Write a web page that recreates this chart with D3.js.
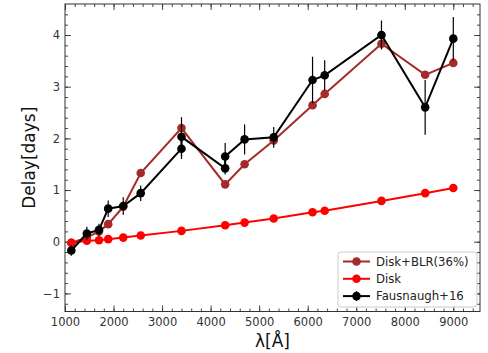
<!DOCTYPE html>
<html>
<head>
<meta charset="utf-8">
<script src="https://cdn.jsdelivr.net/npm/d3@7"></script>
<style>
  body { margin: 0; background: #fff; }
  svg { font-family: "DejaVu Sans", sans-serif; }
</style>
</head>
<body>
<div id="chart"></div>
<script>
let width = 488,
    height = 353;

const margin = {top: 4, right: 8, bottom: 41.5, left: 65};

// wavelengths (Angstrom)
const wave = [1130, 1450, 1700, 1890, 2200, 2560, 3400, 4300, 4700, 5300, 6100, 6350, 7520, 8420, 9000];
const diskBLR = [-0.02, 0.08, 0.2, 0.34, 0.68, 1.33, 2.2, 1.11, 1.5, 1.96, 2.64, 2.86, 3.83, 3.23, 3.46];
const disk = [-0.02, 0.02, 0.03, 0.05, 0.08, 0.12, 0.21, 0.32, 0.37, 0.45, 0.57, 0.6, 0.79, 0.94, 1.04];
// Fausnaugh+16 observed lags (two bands share 3400 and 4300)
const obsWave = [1130, 1450, 1700, 1890, 2200, 2560, 3400, 3400, 4300, 4300, 4700, 5300, 6100, 6350, 7520, 8420, 9000];
const obsLag  = [-0.17, 0.16, 0.23, 0.64, 0.69, 0.94, 1.8, 2.03, 1.42, 1.65, 1.98, 2.02, 3.13, 3.22, 4.0, 2.6, 3.93];
const obsErr  = [0.1, 0.13, 0.12, 0.16, 0.17, 0.15, 0.2, 0.38, 0.12, 0.26, 0.29, 0.2, 0.45, 0.29, 0.28, 0.53, 0.42];

const xTicks = [1000, 2000, 3000, 4000, 5000, 6000, 7000, 8000, 9000];
const yTicks = [-1, 0, 1, 2, 3, 4];

const legendNames = ["Disk+BLR(36%)", "Disk", "Fausnaugh+16"];
const colors = ["#a52a2a", "#ff0000", "#000000"];

const svg = d3.select("#chart")
      .append("svg")
      .attr("width", width)
      .attr("height", height);

const x = d3.scaleLinear().domain([1000, 9550]).range([margin.left, width - margin.right]);
const y = d3.scaleLinear().domain([-1.35, 4.6]).range([height - margin.bottom, margin.top]);

const axisColor = "#333";

function styleAxis(g) {
  g.select(".domain").remove();
  g.selectAll(".tick line").attr("stroke", axisColor).attr("stroke-width", 0.9);
  g.selectAll(".tick text").attr("fill", "#333").style("font-size", "11.5px").style("font-family", "DejaVu Sans, sans-serif");
}

const minorX = d3.range(1000, 9550, 200);
const minorY = d3.range(-1.2, 4.6, 0.2).map(d => Math.round(d * 10) / 10);

// minor ticks
svg.append("g").attr("transform", `translate(0,${y.range()[0]})`)
  .call(d3.axisBottom(x).tickValues(minorX).tickSize(-3).tickFormat("")).call(styleAxis);
svg.append("g").attr("transform", `translate(0,${y.range()[1]})`)
  .call(d3.axisTop(x).tickValues(minorX).tickSize(-3).tickFormat("")).call(styleAxis);
svg.append("g").attr("transform", `translate(${x.range()[0]},0)`)
  .call(d3.axisLeft(y).tickValues(minorY).tickSize(-3).tickFormat("")).call(styleAxis);
svg.append("g").attr("transform", `translate(${x.range()[1]},0)`)
  .call(d3.axisRight(y).tickValues(minorY).tickSize(-3).tickFormat("")).call(styleAxis);

// major ticks
svg.append("g").attr("transform", `translate(0,${y.range()[0]})`)
  .call(d3.axisBottom(x).tickValues(xTicks).tickSize(-6).tickPadding(5).tickFormat(d3.format("d"))).call(styleAxis)
  .selectAll(".tick text").attr("y", 6).attr("dy", "0.71em");
svg.append("g").attr("transform", `translate(0,${y.range()[1]})`)
  .call(d3.axisTop(x).tickValues(xTicks).tickSize(-6).tickFormat("")).call(styleAxis);
svg.append("g").attr("transform", `translate(${x.range()[0]},0)`)
  .call(d3.axisLeft(y).tickValues(yTicks).tickSize(-6).tickFormat(d => d < 0 ? "\u2212" + Math.abs(d) : d)).call(styleAxis)
  .selectAll(".tick text").attr("x", -5);
svg.append("g").attr("transform", `translate(${x.range()[1]},0)`)
  .call(d3.axisRight(y).tickValues(yTicks).tickSize(-6).tickFormat("")).call(styleAxis);

// frame
svg.append("rect")
  .attr("x", x.range()[0]).attr("y", y.range()[1])
  .attr("width", x.range()[1] - x.range()[0])
  .attr("height", y.range()[0] - y.range()[1])
  .attr("fill", "none").attr("stroke", axisColor).attr("stroke-width", 1);

const line = d3.line().x(d => x(d[0])).y(d => y(d[1]));

// model series
[diskBLR, disk].forEach(function (vals, i) {
  let pts = wave.map((w, j) => [w, vals[j]]);
  svg.append("path").datum(pts)
    .attr("d", line).attr("fill", "none")
    .attr("stroke", colors[i]).attr("stroke-width", 2);
  svg.append("g").selectAll("circle").data(pts).enter().append("circle")
    .attr("cx", d => x(d[0])).attr("cy", d => y(d[1])).attr("r", 4.3)
    .attr("fill", colors[i]);
});

// observed
let obs = obsWave.map((w, j) => [w, obsLag[j], obsErr[j]]);
svg.append("g").selectAll("line").data(obs).enter().append("line")
  .attr("x1", d => x(d[0])).attr("x2", d => x(d[0]))
  .attr("y1", d => y(d[1] - d[2])).attr("y2", d => y(d[1] + d[2]))
  .attr("stroke", "#000").attr("stroke-width", 1.2);
svg.append("path").datum(obs)
  .attr("d", line).attr("fill", "none")
  .attr("stroke", "#000").attr("stroke-width", 2);
svg.append("g").selectAll("circle").data(obs).enter().append("circle")
  .attr("cx", d => x(d[0])).attr("cy", d => y(d[1])).attr("r", 4.3)
  .attr("fill", "#000");

// axis labels
svg.append("text")
  .attr("x", (x.range()[0] + x.range()[1]) / 2).attr("y", 347)
  .attr("text-anchor", "middle").style("font-size", "17px").attr("fill", "#111")
  .text("λ[Å]");
svg.append("text")
  .attr("transform", `translate(35,${(y.range()[0] + y.range()[1]) / 2}) rotate(-90)`)
  .attr("text-anchor", "middle").style("font-size", "17px").attr("fill", "#111")
  .text("Delay[days]");

// legend
const lg = svg.append("g").attr("transform", "translate(338,252)");
lg.append("rect").attr("width", 139).attr("height", 55).attr("rx", 3)
  .attr("fill", "#fff").attr("fill-opacity", 0.85)
  .attr("stroke", "#ccc").attr("stroke-width", 1);
legendNames.forEach(function (name, i) {
  let yy = 9.5 + i * 17.3;
  lg.append("line").attr("x1", 5).attr("x2", 32).attr("y1", yy).attr("y2", yy)
    .attr("stroke", colors[i]).attr("stroke-width", 2);
  if (i === 2) {
    lg.append("line").attr("x1", 18.5).attr("x2", 18.5).attr("y1", yy - 5).attr("y2", yy + 5)
      .attr("stroke", "#000").attr("stroke-width", 1.2);
  }
  lg.append("circle").attr("cx", 18.5).attr("cy", yy).attr("r", 4.3).attr("fill", colors[i]);
  lg.append("text").attr("x", 38).attr("y", yy).attr("dy", "0.35em")
    .style("font-size", "11.7px").attr("fill", "#222").text(name);
});
</script>
</body>
</html>
